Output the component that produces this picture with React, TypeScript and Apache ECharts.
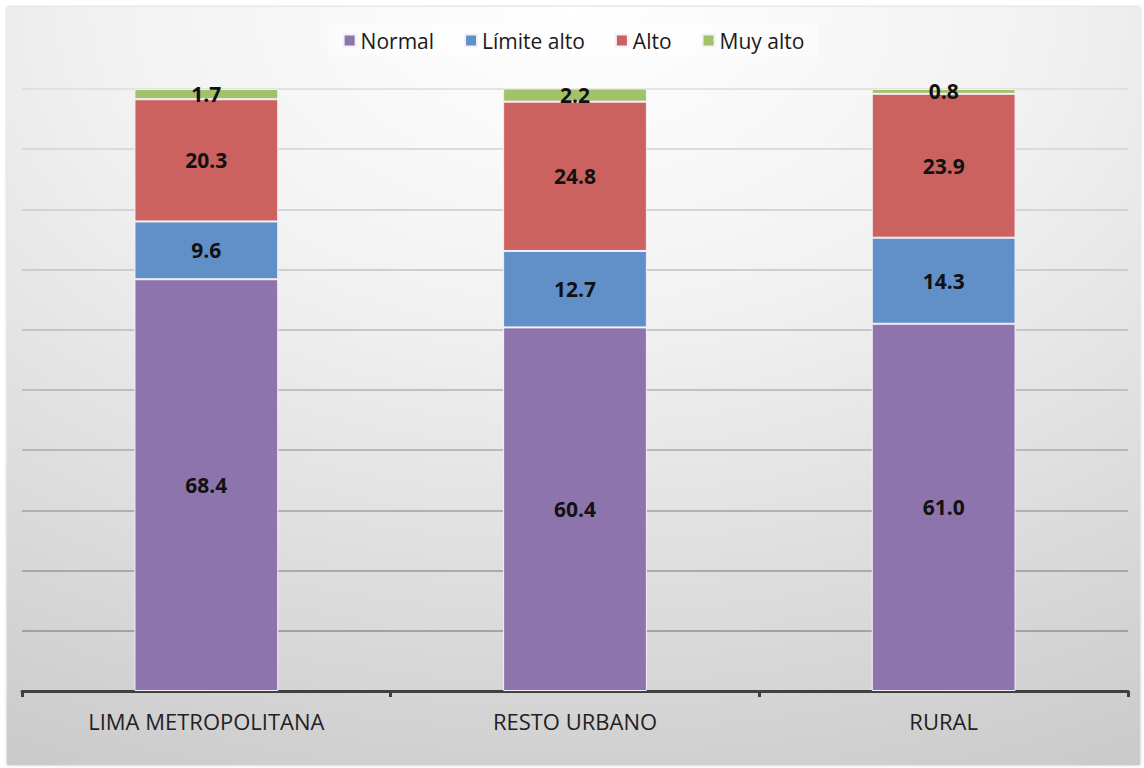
import React, { useEffect, useRef } from "react";
import * as echarts from "echarts";

const categories = ["LIMA METROPOLITANA", "RESTO URBANO", "RURAL"];
const normal = [68.4, 60.4, 61.0];
const limiteAlto = [9.6, 12.7, 14.3];
const alto = [20.3, 24.8, 23.9];
const muyAlto = [1.7, 2.2, 0.8];

const seriesNames = ["Normal", "Límite alto", "Alto", "Muy alto"];
const seriesColors = ["#8d74ad", "#6190c8", "#cb6260", "#a2c169"];

export default function App() {
  const ref = useRef<HTMLDivElement>(null);
  useEffect(() => {
    if (!ref.current) return;
    const chart = echarts.init(ref.current, null, { renderer: "svg" });
    const values = [normal, limiteAlto, alto, muyAlto];
    const font = "'Open Sans', 'Liberation Sans', sans-serif";
    chart.setOption({
      animation: false,
      backgroundColor: new echarts.graphic.RadialGradient(0.5, 0, 1.15, [
        { offset: 0, color: "#ffffff" },
        { offset: 0.35, color: "#f2f2f2" },
        { offset: 1, color: "#c8c8c8" },
      ]),
      textStyle: { fontFamily: font },
      legend: {
        top: 17,
        left: "center",
        itemWidth: 12,
        itemHeight: 12,
        itemGap: 30,
        icon: "rect",
        backgroundColor: "rgba(255,255,255,0.45)",
        padding: [6, 14],
        textStyle: { fontSize: 21, color: "#1a1a1a", fontFamily: font },
        data: seriesNames,
      },
      grid: { left: 15, right: 12, top: 82, bottom: 74, containLabel: false },
      xAxis: {
        type: "category",
        data: categories,
        axisLine: { lineStyle: { color: "#404040", width: 3 } },
        axisTick: { show: true, length: 6, lineStyle: { color: "#404040", width: 3 } },
        axisLabel: { fontSize: 22, color: "#222222", margin: 19, fontFamily: font },
      },
      yAxis: {
        type: "value",
        min: 0,
        max: 100,
        interval: 10,
        axisLabel: { show: false },
        axisLine: { show: false },
        axisTick: { show: false },
        splitLine: {
          lineStyle: {
            width: 1.5,
            color: {
              type: "linear",
              x: 0,
              y: 80,
              x2: 0,
              y2: 700,
              global: true,
              colorStops: [
                { offset: 0, color: "#dcdcdc" },
                { offset: 1, color: "#868686" },
              ],
            },
          },
        },
      },
      series: seriesNames.map((name, i) => ({
        name,
        type: "bar",
        stack: "total",
        barWidth: "39%",
        data: values[i],
        itemStyle: { color: seriesColors[i], borderColor: "#f4f0f8", borderWidth: 1 },
        label: {
          show: true,
          position: "inside",
          formatter: (p: any) => Number(p.value).toFixed(1),
          fontSize: 21,
          fontWeight: "bold",
          color: "#111111",
          fontFamily: font,
        },
      })),
    });
    return () => chart.dispose();
  }, []);
  return (
    <div
      ref={ref}
      style={{
        position: "absolute",
        left: 7,
        top: 7,
        width: 1133,
        height: 758,
        boxShadow: "0 0 3px rgba(0,0,0,0.25)",
      }}
    />
  );
}
